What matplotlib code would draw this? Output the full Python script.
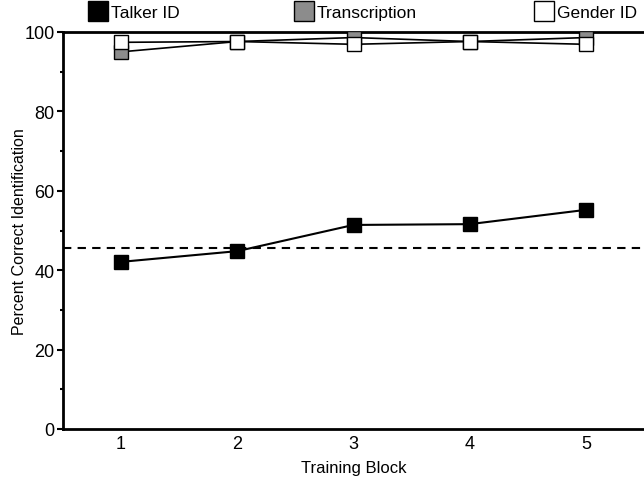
import numpy as np
import matplotlib.pyplot as plt
from matplotlib.ticker import MultipleLocator

plt.rcParams['font.family'] = ['Liberation Sans', 'DejaVu Sans']

blocks = [1, 2, 3, 4, 5]
talker_id = [42.1, 44.8, 51.4, 51.6, 55.2]
transcription = [95.0, 97.6, 98.6, 97.6, 98.6]
gender_id = [97.4, 97.6, 96.9, 97.6, 96.9]
chance = 45.6

fig = plt.figure(figsize=(6.44, 4.81), dpi=100)
ax = fig.add_axes([63/644, 51/481, 581/644, 397/481])

ax.axhline(chance, color='black', lw=1.5, ls=(0, (4, 3)), zorder=1)
l1, = ax.plot(blocks, talker_id, color='black', lw=1.5, marker='s', ms=10,
              mfc='black', mec='black', label='Talker ID', zorder=3)
l2, = ax.plot(blocks, transcription, color='black', lw=1.2, marker='s', ms=10,
              mfc='#8c8c8c', mec='black', label='Transcription', zorder=3)
l3, = ax.plot(blocks, gender_id, color='black', lw=1.2, marker='s', ms=10,
              mfc='white', mec='black', label='Gender ID', zorder=4)

ax.set_xlim(0.5, 5.5)
ax.set_ylim(0, 100)
ax.set_xticks(blocks)
ax.yaxis.set_major_locator(MultipleLocator(20))
ax.yaxis.set_minor_locator(MultipleLocator(10))
ax.tick_params(axis='x', length=0, labelsize=13, pad=4)
ax.tick_params(axis='y', which='major', length=4, width=1.5, labelsize=13, pad=2)
ax.tick_params(axis='y', which='minor', length=2, width=1.5)
for s in ax.spines.values():
    s.set_linewidth(2)
ax.spines['right'].set_visible(False)

ax.set_xlabel('Training Block', fontsize=12, labelpad=6)
ax.set_ylabel('Percent Correct Identification', fontsize=11.5, labelpad=-2)

# one legend per entry, spread along the top
for line, xpos in [(l1, 90), (l2, 296), (l3, 536)]:
    leg = fig.legend([line], [line.get_label()], loc='center left',
                     bbox_to_anchor=(xpos/644, 1 - 13/481), frameon=False,
                     fontsize=12.5, handlelength=0.9, handletextpad=0.3,
                     borderpad=0, borderaxespad=0)
    for h in leg.legend_handles:
        h.set_linestyle('None')
        h.set_markersize(14)

fig.savefig('out.png', dpi=100)
